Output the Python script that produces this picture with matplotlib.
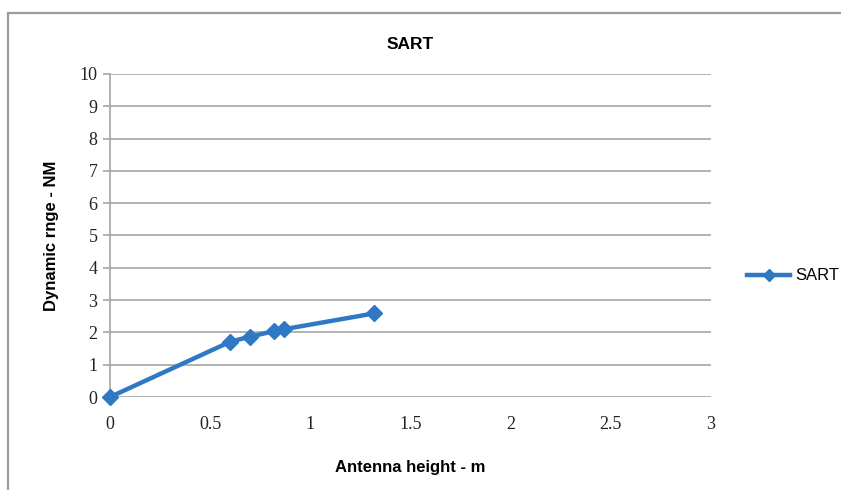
import matplotlib.pyplot as plt
from matplotlib.patches import Rectangle

# antenna height (m) vs dynamic range (NM)
antenna_height = [0.0, 0.6, 0.7, 0.82, 0.87, 1.32]
dynamic_range = [0.0, 1.71, 1.87, 2.04, 2.10, 2.59]

x_ticks = [0, 0.5, 1, 1.5, 2, 2.5, 3]
x_tick_labels = ['0', '0.5', '1', '1.5', '2', '2.5', '3']
y_ticks = list(range(0, 11))

blue = '#2f78c4'
grey = '#a6a6a6'

fig = plt.figure(figsize=(8.41, 4.90), dpi=100)

# outer chart frame
fig.patches.append(Rectangle((8 / 841, -0.1), 1.0, 1 - 13 / 490 + 0.1,
                             transform=fig.transFigure, fill=False,
                             edgecolor='#9a9a9a', linewidth=1.6))

ax = fig.add_axes([110 / 841, 1 - 397 / 490, 601 / 841, 323 / 490])
ax.plot(antenna_height, dynamic_range, color=blue, linewidth=3.2,
        marker='D', markersize=8, label='SART', clip_on=False, zorder=3)

ax.set_xlim(0, 3)
ax.set_ylim(0, 10)
ax.set_xticks(x_ticks)
ax.set_xticklabels(x_tick_labels)
ax.set_yticks(y_ticks)
ax.grid(axis='y', color=grey, linewidth=1.2)
ax.set_axisbelow(True)

for side in ['top', 'right', 'bottom']:
    ax.spines[side].set_visible(False)
ax.spines['left'].set_color(grey)
ax.spines['left'].set_linewidth(1.2)
ax.tick_params(axis='y', length=5, color=grey, width=1.2, pad=4)
ax.tick_params(axis='x', length=0, pad=14)
for lbl in ax.get_xticklabels() + ax.get_yticklabels():
    lbl.set_family('Liberation Serif')
    lbl.set_fontsize(13)
    lbl.set_color('#222222')

ax.set_title('SART', fontsize=12.5, fontweight='bold', family='Liberation Sans', pad=18)
ax.set_xlabel('Antenna height - m', fontsize=12, fontweight='bold',
              family='Liberation Sans', labelpad=19)
ax.set_ylabel('Dynamic rnge - NM', fontsize=12, fontweight='bold',
              family='Liberation Sans', labelpad=15)

leg = ax.legend(loc='center left', bbox_to_anchor=(1.035, 0.375), frameon=False,
                prop={'family': 'Liberation Sans', 'size': 12},
                handlelength=2.6, handletextpad=0.3, markerscale=0.8)

fig.savefig('out.png', dpi=100)
